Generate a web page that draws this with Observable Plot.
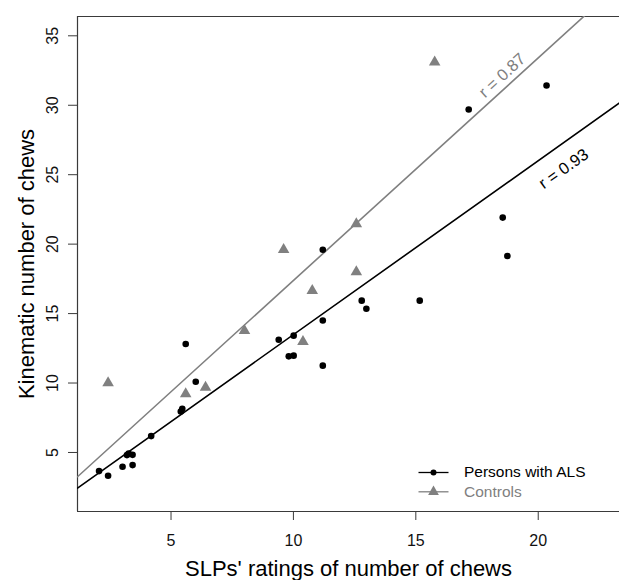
<!DOCTYPE html>
<html>
<head>
<meta charset="utf-8">
<script src="https://cdn.jsdelivr.net/npm/d3@7"></script>
<script src="https://cdn.jsdelivr.net/npm/@observablehq/plot@0.6"></script>
<style>
  html, body { margin: 0; padding: 0; background: #fff; }
  #chart svg { display: block; }
</style>
</head>
<body>
<div id="chart"></div>
<script>
// ---- Data ----
const alsX = [2.06, 2.43, 3.02, 3.20, 3.27, 3.43, 3.43, 4.19, 5.40, 5.46, 5.60, 6.01, 9.40, 9.81, 10.01, 10.01, 11.20, 11.20, 11.20, 12.79, 12.98, 15.16, 17.16, 18.55, 18.74, 20.34];
const alsY = [3.66, 3.32, 3.97, 4.81, 4.93, 4.83, 4.09, 6.18, 7.95, 8.15, 12.81, 10.09, 13.12, 11.92, 11.97, 13.41, 19.60, 14.50, 11.25, 15.93, 15.35, 15.93, 29.69, 21.91, 19.15, 31.42];
const ctrlX = [2.43, 5.60, 6.41, 8.00, 9.60, 10.39, 10.77, 12.57, 12.57, 15.77];
const ctrlY = [10.00, 9.22, 9.68, 13.77, 19.60, 12.98, 16.65, 18.00, 21.45, 33.10];

// fitted regression lines [intercept, slope]
const alsFit = [0.96, 1.2525];
const ctrlFit = [1.36, 1.6025];

// correlation labels and their positions on the chart
const rLabels = ["r = 0.87", "r = 0.93"];
const rLabelX = [18.53, 21.04];
const rLabelY = [32.14, 25.42];

const xTicks = [5, 10, 15, 20];
const yTicks = [5, 10, 15, 20, 25, 30, 35];
const xLim = [1.18, 23.32];
const yLim = [0.75, 36.39];

const xTitle = "SLPs' ratings of number of chews";
const yTitle = "Kinematic number of chews";
const legendLabels = ["Persons with ALS", "Controls"];

// ---- Styling ----
const FONT = "'Liberation Sans', Arial, Helvetica, sans-serif";
const GRAY = "#808080";
const AXIS = "#3a3a3a";

const als = alsX.map((x, i) => ({x, y: alsY[i]}));
const ctrl = ctrlX.map((x, i) => ({x, y: ctrlY[i]}));
const fitLine = ([a, b]) => xLim.map(x => ({x, y: a + b * x}));
const rData = rLabels.map((t, i) => ({t, x: rLabelX[i], y: rLabelY[i]}));

const lineSymbol = {
  draw(context) { context.moveTo(-15, 0); context.lineTo(15, 0); }
};

const legendMarks = legendLabels.flatMap((label, i) => {
  const color = i === 0 ? "black" : GRAY;
  const dy = i === 0 ? -39 : -19.7;
  return [
    Plot.dot([label], {frameAnchor: "bottom-right", dx: -186, dy, symbol: lineSymbol, stroke: color, strokeWidth: 1.3, fill: "none"}),
    Plot.dot([label], {frameAnchor: "bottom-right", dx: -186, dy, symbol: i === 0 ? "circle" : "triangle", r: i === 0 ? 3 : 4, fill: color, stroke: "none"}),
    Plot.text([label], {frameAnchor: "bottom-right", dx: -155.5, dy, text: d => d, textAnchor: "start", lineAnchor: "middle", fill: color, fontSize: 15.5})
  ];
});

const chart = Plot.plot({
  width: 619,
  height: 580,
  marginLeft: 77,
  marginRight: 0,
  marginTop: 16,
  marginBottom: 69,
  style: {fontFamily: FONT, background: "white", color: "black"},
  x: {domain: xLim, label: null},
  y: {domain: yLim, label: null},
  marks: [
    // box (left, top, bottom)
    Plot.ruleX([xLim[0]], {stroke: AXIS, strokeWidth: 1.2}),
    Plot.ruleY(yLim, {stroke: AXIS, strokeWidth: 1.2}),
    // regression lines
    Plot.line(fitLine(ctrlFit), {x: "x", y: "y", stroke: GRAY, strokeWidth: 1.6, clip: true}),
    Plot.line(fitLine(alsFit), {x: "x", y: "y", stroke: "black", strokeWidth: 1.6, clip: true}),
    // points
    Plot.dot(ctrl, {x: "x", y: "y", symbol: "triangle", r: 4.3, fill: GRAY, stroke: "none"}),
    Plot.dot(als, {x: "x", y: "y", symbol: "circle", r: 3.3, fill: "black", stroke: "none"}),
    // r labels
    Plot.text(rData, {x: "x", y: "y", text: "t", rotate: d => d.t === rLabels[0] ? -42.3 : -35.4,
      fill: d => d.t === rLabels[0] ? GRAY : "black", fontSize: 16.5}),
    // axes
    Plot.axisX({ticks: xTicks, tickSize: 9, tickFormat: () => "", stroke: AXIS, label: null}),
    Plot.text(xTicks, {x: d => d, text: d => String(d), frameAnchor: "bottom", dy: 29, lineAnchor: "middle", textAnchor: "middle", fontSize: 16, fill: "#111"}),
    Plot.axisY({ticks: yTicks, tickSize: 9, tickFormat: () => "", stroke: AXIS, label: null}),
    Plot.text(yTicks, {y: d => d, text: d => String(d), frameAnchor: "left", dx: -25, rotate: -90, textAnchor: "middle", lineAnchor: "middle", fontSize: 16, fill: "#111"}),
    // titles
    Plot.text([xTitle], {frameAnchor: "bottom", dy: 57, text: d => d, textAnchor: "middle", lineAnchor: "middle", fontSize: 22, fill: "black"}),
    Plot.text([yTitle], {frameAnchor: "left", dx: -51, rotate: -90, text: d => d, textAnchor: "middle", lineAnchor: "middle", fontSize: 22, fill: "black"}),
    ...legendMarks
  ]
});

document.getElementById("chart").appendChild(chart);
</script>
</body>
</html>
